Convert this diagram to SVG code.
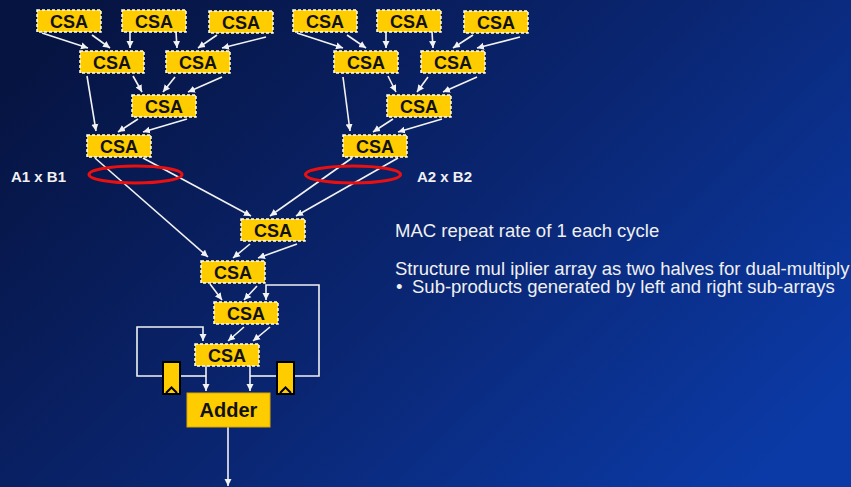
<svg xmlns="http://www.w3.org/2000/svg" width="851" height="487" viewBox="0 0 851 487">
<defs>
<linearGradient id="bg" x1="0" y1="0.2" x2="1" y2="0.8">
<stop offset="0" stop-color="#061442"/>
<stop offset="0.5" stop-color="#0a2570"/>
<stop offset="1" stop-color="#0b3aa6"/>
</linearGradient>
<marker id="ah" markerWidth="8" markerHeight="8" refX="7" refY="4" orient="auto" markerUnits="userSpaceOnUse">
<path d="M0,0.5 L7,4 L0,7.5 Z" fill="#f2f2f2"/>
</marker>
<style>
.csa rect{fill:#ffcc00;stroke:#ffffff;stroke-width:1.5;stroke-dasharray:3 2}
.csa text,.adder text{font-family:"Liberation Sans",Arial,sans-serif;font-weight:bold;font-size:18px;fill:#111;text-anchor:middle}
.conn line,.conn polyline{stroke:#f2f2f2;stroke-width:1.6;fill:none}
.reg rect{fill:#ffcc00;stroke:#000;stroke-width:2}
.reg path{fill:none;stroke:#000;stroke-width:2}
.lbl{font-family:"Liberation Sans",Arial,sans-serif;font-weight:bold;font-size:15px;fill:#f0f0f0}
.body{font-family:"Liberation Sans",Arial,sans-serif;font-size:18.5px;fill:#f0f0f0}
</style>
</defs>
<rect width="851" height="487" fill="url(#bg)"/>

<g id="connectors" class="conn">
<line x1="42" y1="33" x2="88" y2="48" marker-end="url(#ah)"/>
<line x1="92" y1="35" x2="110" y2="48" marker-end="url(#ah)"/>
<line x1="130" y1="32" x2="130" y2="48" marker-end="url(#ah)"/>
<line x1="176" y1="32" x2="177" y2="48" marker-end="url(#ah)"/>
<line x1="217" y1="35" x2="198" y2="48" marker-end="url(#ah)"/>
<line x1="266" y1="37" x2="222" y2="48" marker-end="url(#ah)"/>
<line x1="87" y1="76" x2="96" y2="131" marker-end="url(#ah)"/>
<line x1="133" y1="76" x2="142" y2="92" marker-end="url(#ah)"/>
<line x1="175" y1="77" x2="163" y2="92" marker-end="url(#ah)"/>
<line x1="222" y1="77" x2="188" y2="92" marker-end="url(#ah)"/>
<line x1="138" y1="119" x2="118" y2="132" marker-end="url(#ah)"/>
<line x1="187" y1="119" x2="143" y2="132" marker-end="url(#ah)"/>

<line x1="297" y1="33" x2="343" y2="48" marker-end="url(#ah)"/>
<line x1="347" y1="35" x2="366" y2="48" marker-end="url(#ah)"/>
<line x1="386" y1="32" x2="386" y2="48" marker-end="url(#ah)"/>
<line x1="432" y1="32" x2="433" y2="48" marker-end="url(#ah)"/>
<line x1="473" y1="35" x2="453" y2="48" marker-end="url(#ah)"/>
<line x1="520" y1="37" x2="477" y2="48" marker-end="url(#ah)"/>
<line x1="343" y1="77" x2="350" y2="131" marker-end="url(#ah)"/>
<line x1="388" y1="76" x2="396" y2="92" marker-end="url(#ah)"/>
<line x1="428" y1="77" x2="417" y2="92" marker-end="url(#ah)"/>
<line x1="477" y1="77" x2="443" y2="92" marker-end="url(#ah)"/>
<line x1="393" y1="119" x2="373" y2="132" marker-end="url(#ah)"/>
<line x1="442" y1="119" x2="398" y2="132" marker-end="url(#ah)"/>

<line x1="95" y1="158" x2="208" y2="257" marker-end="url(#ah)"/>
<line x1="143" y1="158" x2="251" y2="216" marker-end="url(#ah)"/>
<line x1="352" y1="158" x2="270" y2="216" marker-end="url(#ah)"/>
<line x1="398" y1="158" x2="296" y2="216" marker-end="url(#ah)"/>
<line x1="250" y1="244" x2="233" y2="258" marker-end="url(#ah)"/>
<line x1="297" y1="244" x2="258" y2="258" marker-end="url(#ah)"/>
<line x1="210" y1="284" x2="222" y2="300" marker-end="url(#ah)"/>
<line x1="257" y1="286" x2="244" y2="300" marker-end="url(#ah)"/>
<line x1="244" y1="327" x2="228" y2="341" marker-end="url(#ah)"/>
<line x1="270" y1="327" x2="253" y2="341" marker-end="url(#ah)"/>

<polyline points="162,376 137,376 137,327 203,327 203,341" marker-end="url(#ah)"/>
<line x1="180" y1="376" x2="206" y2="376"/>
<line x1="206" y1="366" x2="206" y2="391" marker-end="url(#ah)"/>
<polyline points="295,376 319,376 319,285 266,285 266,300" marker-end="url(#ah)"/>
<line x1="277" y1="376" x2="250" y2="376"/>
<line x1="250" y1="366" x2="250" y2="391" marker-end="url(#ah)"/>
<line x1="228" y1="427" x2="228" y2="486" marker-end="url(#ah)"/>
</g>

<g id="csa-l1a" class="csa"><rect x="37" y="10" width="64" height="22"/><text x="69" y="28">CSA</text></g>
<g id="csa-l1b" class="csa"><rect x="122" y="10" width="64" height="22"/><text x="154" y="28">CSA</text></g>
<g id="csa-l1c" class="csa"><rect x="209" y="11" width="64" height="22"/><text x="241" y="29">CSA</text></g>
<g id="csa-l2a" class="csa"><rect x="80" y="51" width="64" height="22"/><text x="112" y="69">CSA</text></g>
<g id="csa-l2b" class="csa"><rect x="166" y="51" width="64" height="22"/><text x="198" y="69">CSA</text></g>
<g id="csa-l3" class="csa"><rect x="132" y="95" width="64" height="22"/><text x="164" y="113">CSA</text></g>
<g id="csa-l4" class="csa"><rect x="87" y="135" width="64" height="22"/><text x="119" y="153">CSA</text></g>

<g id="csa-r1a" class="csa"><rect x="293" y="10" width="64" height="22"/><text x="325" y="28">CSA</text></g>
<g id="csa-r1b" class="csa"><rect x="377" y="10" width="64" height="22"/><text x="409" y="28">CSA</text></g>
<g id="csa-r1c" class="csa"><rect x="464" y="11" width="64" height="22"/><text x="496" y="29">CSA</text></g>
<g id="csa-r2a" class="csa"><rect x="334" y="51" width="64" height="22"/><text x="366" y="69">CSA</text></g>
<g id="csa-r2b" class="csa"><rect x="421" y="51" width="64" height="22"/><text x="453" y="69">CSA</text></g>
<g id="csa-r3" class="csa"><rect x="387" y="95" width="64" height="22"/><text x="419" y="113">CSA</text></g>
<g id="csa-r4" class="csa"><rect x="343" y="135" width="64" height="22"/><text x="375" y="153">CSA</text></g>

<g id="csa-m1" class="csa"><rect x="241" y="219" width="64" height="22"/><text x="273" y="237">CSA</text></g>
<g id="csa-m2" class="csa"><rect x="201" y="261" width="64" height="22"/><text x="233" y="279">CSA</text></g>
<g id="csa-m3" class="csa"><rect x="214" y="302" width="64" height="22"/><text x="246" y="320">CSA</text></g>
<g id="csa-m4" class="csa"><rect x="195" y="344" width="64" height="22"/><text x="227" y="362">CSA</text></g>

<g id="reg-left" class="reg"><rect x="163" y="362" width="17" height="32"/><path d="M166,393 L171.5,387.5 L177,393"/></g>
<g id="reg-right" class="reg"><rect x="277" y="362" width="17" height="32"/><path d="M280,393 L285.5,387.5 L291,393"/></g>

<g id="adder" class="adder"><rect x="187" y="393" width="83" height="34" fill="#ffcc00" stroke="#d9a800" stroke-width="1"/><text x="228.5" y="417" style="font-size:20px">Adder</text></g>

<g id="ellipses">
<ellipse cx="135.5" cy="174.5" rx="46.5" ry="8.5" fill="none" stroke="#e81010" stroke-width="3"/>
<ellipse cx="353" cy="174.5" rx="47.5" ry="8.5" fill="none" stroke="#e81010" stroke-width="3"/>
</g>

<g id="labels">
<text class="lbl" x="11" y="182">A1 x B1</text>
<text class="lbl" x="417" y="182">A2 x B2</text>
<text class="body" x="395" y="237">MAC repeat rate of 1 each cycle</text>
<text class="body" x="395" y="275">Structure mul iplier array as two halves for dual-multiply</text>
<text class="body" x="396" y="293">•</text>
<text class="body" x="412" y="293">Sub-products generated by left and right sub-arrays</text>
</g>
</svg>
